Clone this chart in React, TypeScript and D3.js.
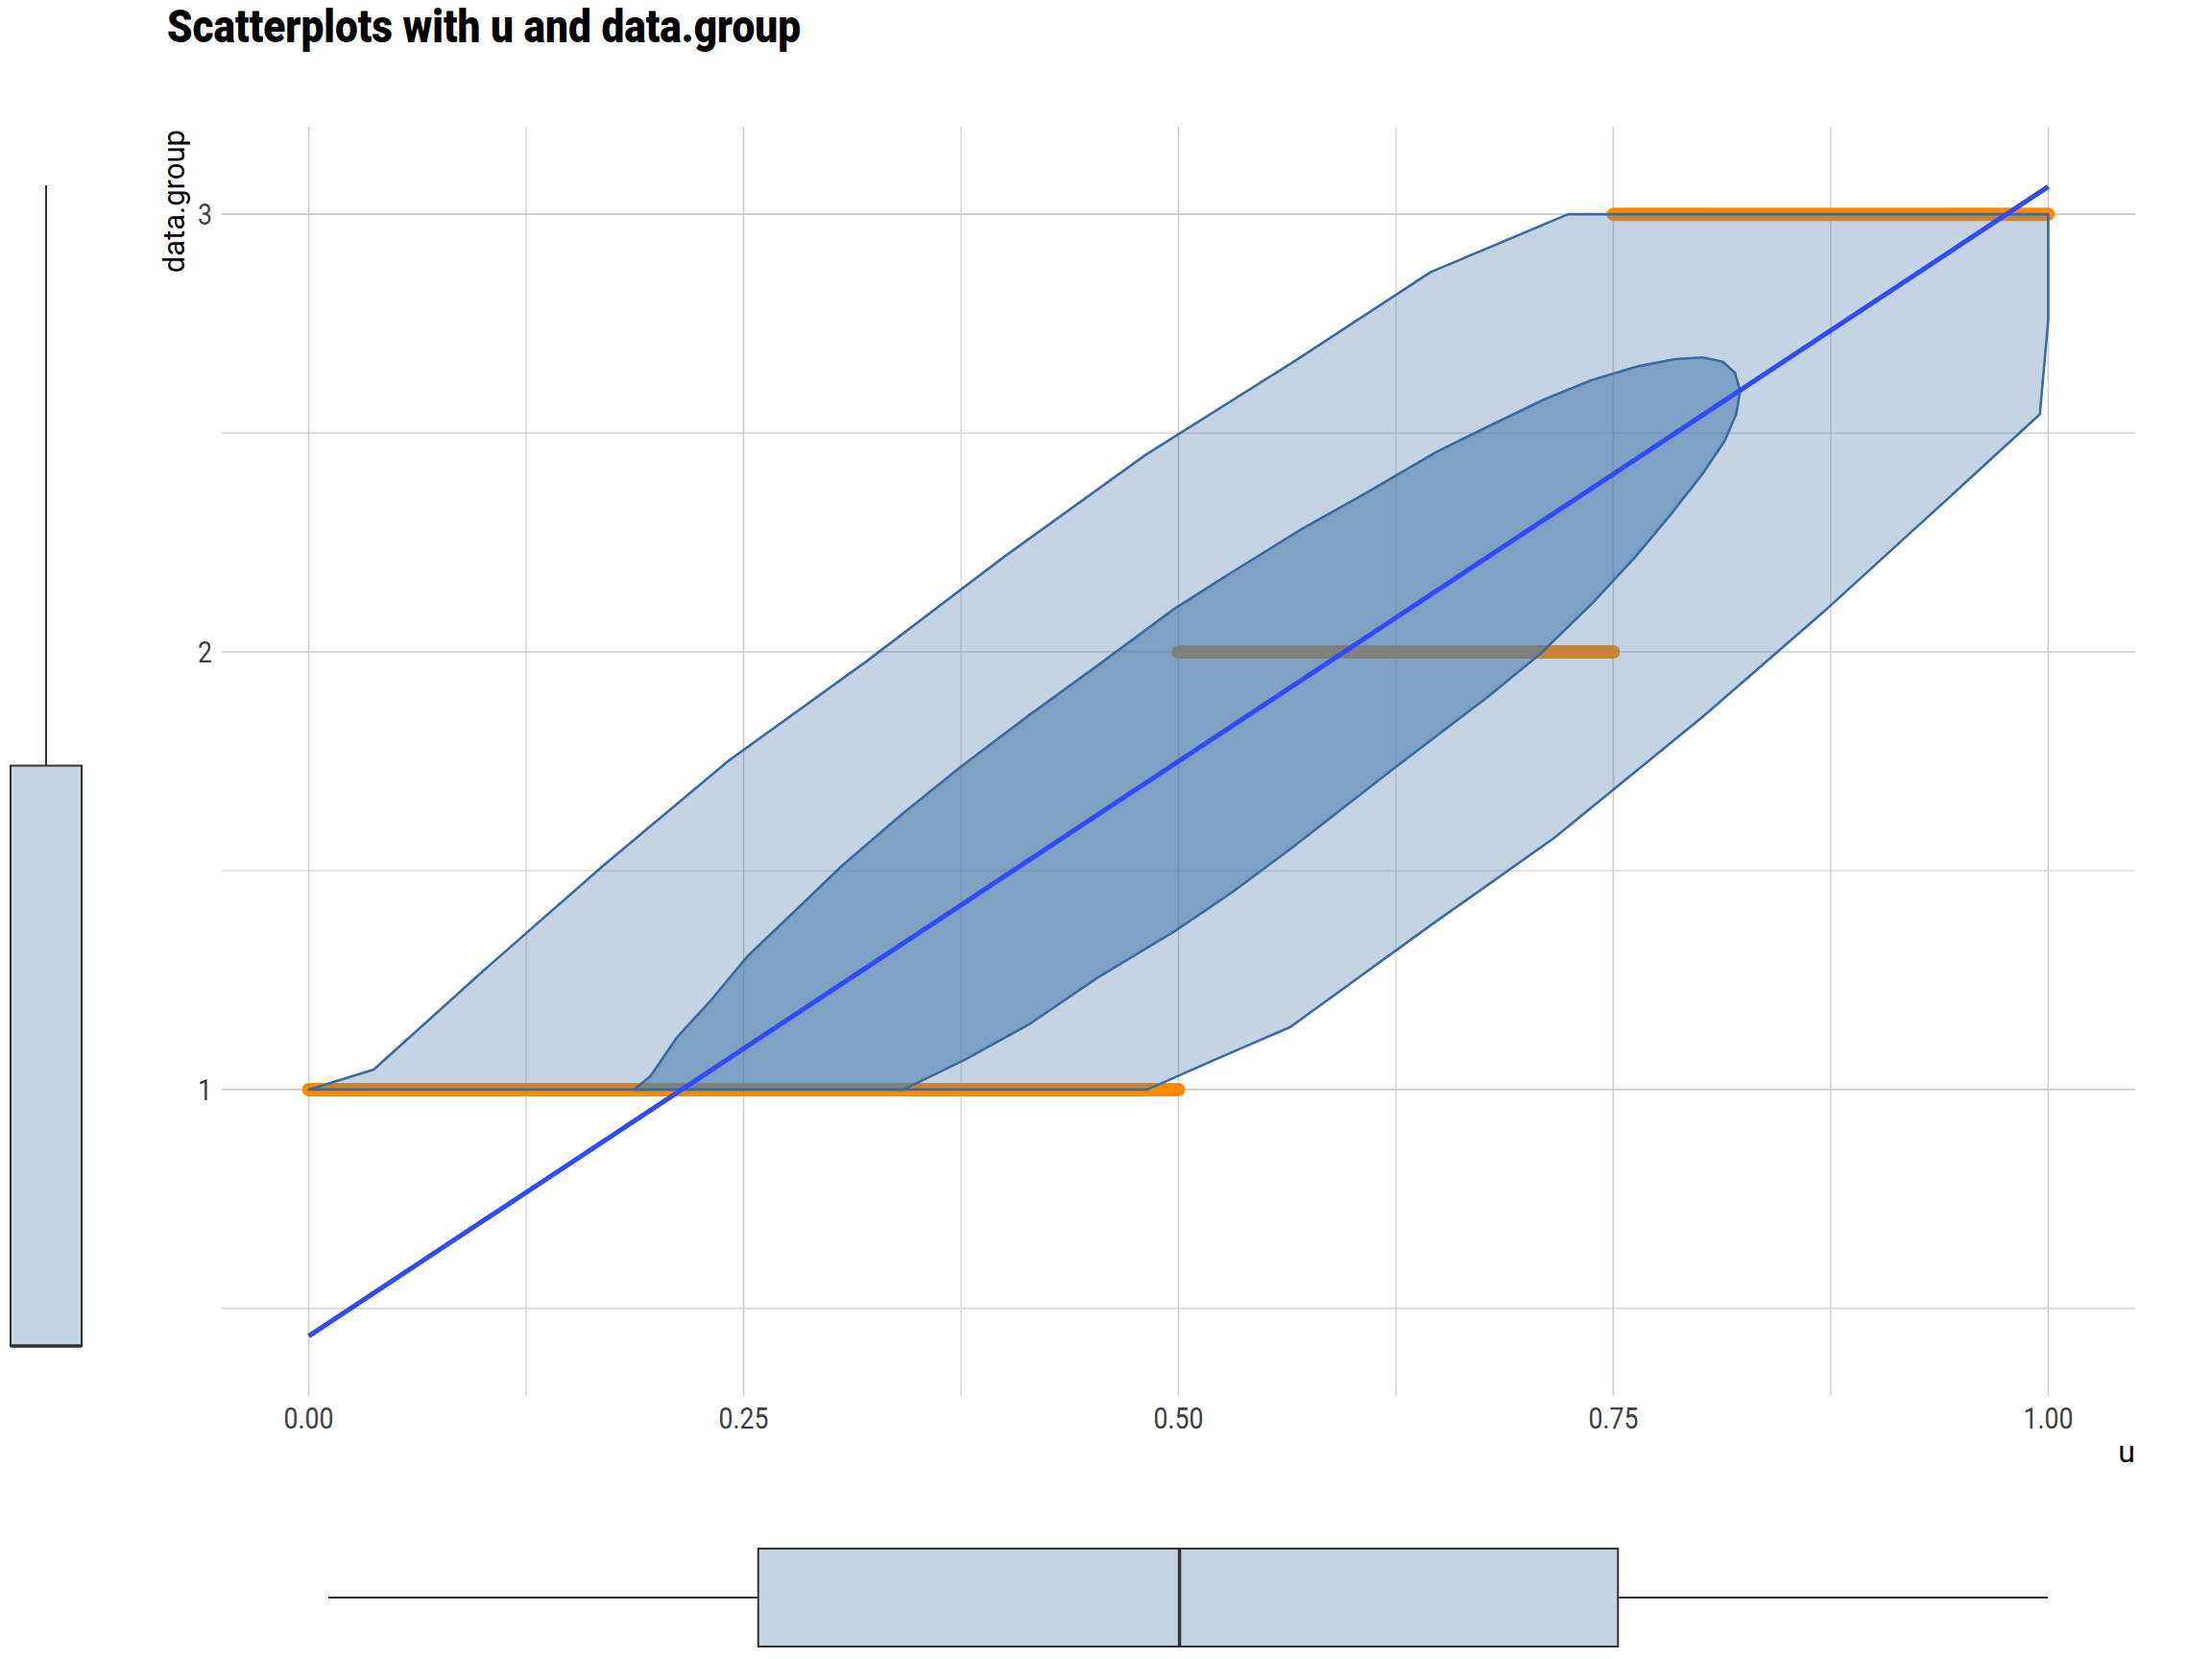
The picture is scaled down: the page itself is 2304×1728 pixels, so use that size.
import React from "react";
import * as d3 from "d3";

// axis ticks
const xTicks = [0, 0.25, 0.5, 0.75, 1];
const xTickLabels = ["0.00", "0.25", "0.50", "0.75", "1.00"];
const xMinor = [0.125, 0.375, 0.625, 0.875];
const yTicks = [1, 2, 3];
const yTickLabels = ["1", "2", "3"];
const yMinor = [0.5, 1.5, 2.5];

// points: u runs per data.group (dense, overlapping points)
const groups = [1, 2, 3];
const groupUStart = [0, 0.5, 0.75];
const groupUEnd = [0.5, 0.75, 1.0];

// 2d density contour, outer level
const outerU = [0, 0.0374, 0.1008, 0.1694, 0.2416, 0.3208, 0.4, 0.481, 0.567, 0.645, 0.724, 1.0, 1.0, 0.9952, 0.937, 0.871, 0.8014, 0.716, 0.6445, 0.5643, 0.53, 0.482];
const outerG = [1.0, 1.046, 1.273, 1.512, 1.752, 1.979, 2.218, 2.45, 2.665, 2.868, 3.0, 3.0, 2.758, 2.543, 2.331, 2.092, 1.852, 1.575, 1.374, 1.143, 1.084, 1.0];

// inner level
const innerU = [0.187, 0.1965, 0.2116, 0.231, 0.2521, 0.2803, 0.3067, 0.3419, 0.3753, 0.414, 0.4528, 0.4974, 0.5323, 0.571, 0.6077, 0.6484, 0.6774, 0.7103, 0.7374, 0.7645, 0.7858, 0.8013, 0.8129, 0.8199, 0.8229, 0.8206, 0.814, 0.8013, 0.7838, 0.7626, 0.7393, 0.7084, 0.6774, 0.6232, 0.5651, 0.5302, 0.4974, 0.4528, 0.4141, 0.3771, 0.3419];
const innerG = [1.0, 1.031, 1.119, 1.203, 1.304, 1.411, 1.512, 1.632, 1.739, 1.855, 1.967, 2.098, 2.186, 2.281, 2.363, 2.457, 2.514, 2.577, 2.621, 2.653, 2.669, 2.673, 2.663, 2.638, 2.596, 2.543, 2.482, 2.407, 2.318, 2.217, 2.117, 1.997, 1.896, 1.732, 1.552, 1.449, 1.361, 1.254, 1.149, 1.068, 1.0];

// linear fit
const fitU = [0, 1];
const fitG = [0.437, 3.063];

// marginal boxplots: min, q1, median, q3, max
const uBoxStats = [0, 0.25, 0.495, 0.75, 1];
const groupBoxStats = [1, 1, 1, 2, 3];

const W = 2304;
const H = 1728;
const panel = { left: 231, right: 2224, top: 132, bottom: 1454 };
const tickFont = "Roboto, 'Noto Sans', sans-serif";

const x = d3.scaleLinear().domain([-0.05, 1.05]).range([panel.left, panel.right]);
const y = d3.scaleLinear().domain([0.3, 3.2]).range([panel.bottom, panel.top]);

// marginal scales
const xm = d3.scaleLinear().domain([0, 1]).range([342, 2133]);
const ym = d3.scaleLinear().domain([1, 3]).range([1402, 193]);

const polyLine = d3
  .line<[number, number]>()
  .x((d) => x(d[0]))
  .y((d) => y(d[1]));

const fillBlue = "#4c7cad";
const strokeBlue = "#3a6ca3";
const boxFill = "#c4d4e4";
const dark = "#333333";

export default function App() {
  const outerPts = outerU.map((u, i) => [u, outerG[i]] as [number, number]);
  const innerPts = innerU.map((u, i) => [u, innerG[i]] as [number, number]);

  const [bmin, bq1, bmed, bq3, bmax] = uBoxStats;
  const [gmin, gq1, gmed, gq3, gmax] = groupBoxStats;
  const bottomCy = 1664;
  const bottomH = 102;
  const leftCx = 48;
  const leftW = 74;

  return (
    <svg
      width={W}
      height={H}
      style={{ position: "absolute", top: 0, left: 0, background: "#fff" }}
    >
      <rect width={W} height={H} fill="#fff" />

      {/* title */}
      <text
        x={174}
        y={44}
        fontFamily="Roboto, sans-serif"
        fontWeight={900}
        fontSize={48}
        textLength={660}
        lengthAdjust="spacingAndGlyphs"
        fill="#000"
      >
        Scatterplots with u and data.group
      </text>

      {/* grid */}
      <g>
        {xMinor.map((v) => (
          <line key={"xm" + v} x1={x(v)} x2={x(v)} y1={panel.top} y2={panel.bottom} stroke="#cccccc" strokeWidth={1.1} />
        ))}
        {yMinor.map((v) => (
          <line key={"ym" + v} x1={panel.left} x2={panel.right} y1={y(v)} y2={y(v)} stroke="#cccccc" strokeWidth={1.1} />
        ))}
        {xTicks.map((v) => (
          <line key={"xt" + v} x1={x(v)} x2={x(v)} y1={panel.top} y2={panel.bottom} stroke="#cccccc" strokeWidth={1.6} />
        ))}
        {yTicks.map((v) => (
          <line key={"yt" + v} x1={panel.left} x2={panel.right} y1={y(v)} y2={y(v)} stroke="#cccccc" strokeWidth={1.6} />
        ))}
      </g>

      {/* points */}
      <g>
        {groups.map((g, i) => (
          <line
            key={"p" + g}
            x1={x(groupUStart[i])}
            x2={x(groupUEnd[i])}
            y1={y(g)}
            y2={y(g)}
            stroke="#ff8a00"
            strokeWidth={14}
            strokeLinecap="round"
          />
        ))}
      </g>

      {/* density contours */}
      <path d={polyLine(outerPts) + "Z"} fill={fillBlue} fillOpacity={0.33} stroke={strokeBlue} strokeWidth={2.6} strokeLinejoin="round" />
      <path d={polyLine(innerPts) + "Z"} fill={fillBlue} fillOpacity={0.58} stroke={strokeBlue} strokeWidth={2.6} strokeLinejoin="round" />

      {/* linear fit */}
      <line
        x1={x(fitU[0])}
        x2={x(fitU[1])}
        y1={y(fitG[0])}
        y2={y(fitG[1])}
        stroke="#2f4bff"
        strokeWidth={5}
      />

      {/* axis tick labels */}
      <g fontFamily={tickFont} fontSize={31} fill="#404040">
        {xTicks.map((v, i) => (
          <text key={"xl" + v} transform={`translate(${x(v)},1488) scale(0.86,1)`} textAnchor="middle">
            {xTickLabels[i]}
          </text>
        ))}
        {yTicks.map((v, i) => (
          <text key={"yl" + v} transform={`translate(221,${y(v) + 11}) scale(0.86,1)`} textAnchor="end">
            {yTickLabels[i]}
          </text>
        ))}
      </g>

      {/* axis titles */}
      <text x={2224} y={1523} textAnchor="end" fontFamily="Roboto, sans-serif" fontSize={32} fill="#000">
        u
      </text>
      <text
        transform={`translate(192,${panel.top + 3}) rotate(-90)`}
        textAnchor="end"
        fontFamily="Roboto, sans-serif"
        fontSize={31}
        fill="#000"
      >
        data.group
      </text>

      {/* bottom marginal boxplot of u */}
      <g stroke={dark} strokeWidth={2}>
        <line x1={xm(bmin)} x2={xm(bq1)} y1={bottomCy} y2={bottomCy} />
        <line x1={xm(bq3)} x2={xm(bmax)} y1={bottomCy} y2={bottomCy} />
        <rect
          x={xm(bq1)}
          y={bottomCy - bottomH / 2}
          width={xm(bq3) - xm(bq1)}
          height={bottomH}
          fill={boxFill}
        />
        <line x1={xm(bmed)} x2={xm(bmed)} y1={bottomCy - bottomH / 2} y2={bottomCy + bottomH / 2} strokeWidth={3.5} />
      </g>

      {/* left marginal boxplot of data.group */}
      <g stroke={dark} strokeWidth={2}>
        <line x1={leftCx} x2={leftCx} y1={ym(gmax)} y2={ym(gq3)} />
        <line x1={leftCx} x2={leftCx} y1={ym(gq1)} y2={ym(gmin)} />
        <rect
          x={leftCx - leftW / 2}
          y={ym(gq3)}
          width={leftW}
          height={ym(gq1) - ym(gq3)}
          fill={boxFill}
        />
        <line x1={leftCx - leftW / 2} x2={leftCx + leftW / 2} y1={ym(gmed)} y2={ym(gmed)} strokeWidth={3.5} />
      </g>
    </svg>
  );
}
